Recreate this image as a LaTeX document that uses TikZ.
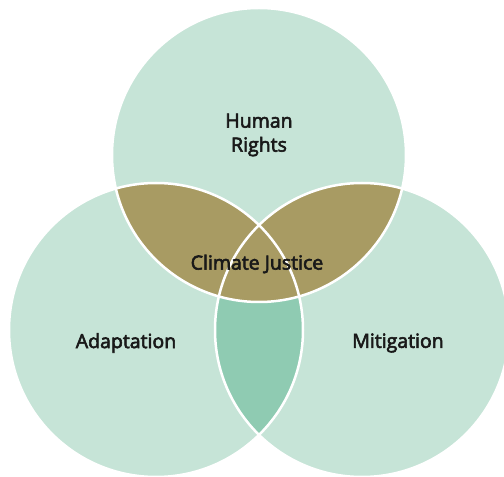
\documentclass[tikz,border=0pt]{standalone}
\usepackage{fontspec}
\newfontfamily\lblfont{Open Sans}[FakeBold=3]
\usepackage{tikz}
\usetikzlibrary{positioning}
\definecolor{circlegreen}{HTML}{C6E4D7}
\definecolor{overlapolive}{HTML}{A89B63}
\definecolor{overlapgreen}{HTML}{8FCBB2}

\begin{document}
\begin{tikzpicture}[x=1pt,y=1pt]
\tikzstyle{every node}=[font=\lblfont\fontsize{19.5}{24}\selectfont,text=black!90,align=center]
\tikzstyle{ring}=[draw=white,line width=2.5pt]

\edef\rad{147}
\useasboundingbox (0,0) rectangle (504,477);

%% Circle centres
\coordinate (rights) at (259,322);
\coordinate (adapt) at (156,147);
\coordinate (mitig) at (362,147);

%% Draw the three circles
\foreach \c in {rights,adapt,mitig}
	\fill[circlegreen] (\c) circle (\rad);

%% Overlap of the lower two
\begin{scope}
	\clip (adapt) circle (\rad);
	\fill[overlapgreen] (mitig) circle (\rad);
\end{scope}

%% Overlaps with the top circle
\begin{scope}
	\clip (rights) circle (\rad);
	\fill[overlapolive] (adapt) circle (\rad);
	\fill[overlapolive] (mitig) circle (\rad);
\end{scope}

%% White borders
\foreach \c in {rights,adapt,mitig}
	\path[ring] (\c) circle (\rad);

%% Labels
\node (humanrights) at (259,342) {Human\\Rights};
\node (climatejustice) at (257,213) {Climate Justice};
\node (adaptation) at (126,134) {Adaptation};
\node (mitigation) at (398,134) {Mitigation};

\end{tikzpicture}
\end{document}
